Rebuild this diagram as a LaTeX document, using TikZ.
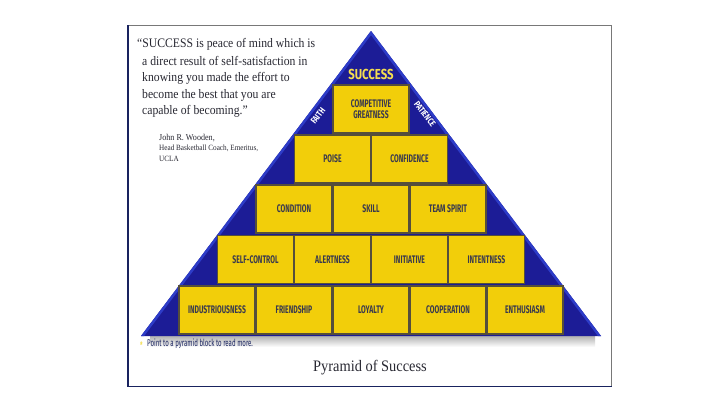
\documentclass[tikz,border=0pt]{standalone}
\usepackage{fontspec}
\setmainfont{Liberation Serif}
\newfontfamily\quotefont{Liberation Serif}[FakeStretch=0.9]
\newfontfamily\blockfont{Fira Sans}[FakeStretch=0.62]
\newfontfamily\topfont{Fira Sans}[FakeStretch=0.78]
\definecolor{pyrblue}{RGB}{28,28,150}
\definecolor{pyredge}{RGB}{45,60,200}
\definecolor{blkyellow}{RGB}{242,206,10}
\definecolor{blkedge}{RGB}{85,78,60}
\definecolor{blktext}{RGB}{58,58,78}
\definecolor{sucyellow}{RGB}{245,222,80}
\definecolor{navy}{RGB}{25,35,95}
\definecolor{framegray}{RGB}{120,120,120}
\definecolor{quotetext}{RGB}{40,40,50}
\tikzset{
  blk/.style={draw=blkedge, line width=1.4pt, fill=blkyellow, minimum width=76pt,
    minimum height=48pt, inner sep=0pt, align=center, text=blktext,
    font=\blockfont\bfseries\fontsize{11}{11.5}\selectfont},
  sidelbl/.style={text=white, inner sep=0pt, font=\topfont\bfseries\fontsize{9}{9}\selectfont},
  quoteln/.style={anchor=west, inner sep=0pt, text=quotetext, font=\quotefont\fontsize{13}{14}\selectfont},
  attrln/.style={anchor=west, inner sep=0pt, text=quotetext, font=\quotefont\fontsize{8}{9}\selectfont}
}
\begin{document}
\begin{tikzpicture}[x=1pt,y=-1pt]
\useasboundingbox (0,0) rectangle (720,405);
\fill[white] (0,0) rectangle (720,405);
% frame
\draw[framegray, line width=0.8pt] (127,25) -- (611.5,25) -- (611.5,386);
\draw[navy, line width=1.6pt] (128,25) -- (128,386.5) -- (612,386.5);
% shadow under pyramid
\shade[top color=black!30, bottom color=white] (150,336) rectangle (595,347);
% pyramid
\coordinate (apex) at (371,31);
\coordinate (bl) at (141,336);
\coordinate (br) at (601,336);
\fill[pyrblue] (apex) -- (bl) -- (br) -- cycle;
\begin{scope}
\clip (apex) -- (bl) -- (br) -- cycle;
\draw[pyredge, line width=5pt] (bl) -- (apex) -- (br);
\end{scope}
% top label
\node[text=sucyellow, inner sep=0pt, font=\topfont\bfseries\fontsize{14.5}{15}\selectfont] (success) at (371,74) {SUCCESS};
\node[sidelbl, rotate=52.8] (faith) at (318,116) {FAITH};
\node[sidelbl, rotate=-52.8] (patience) at (425,114) {PATIENCE};
% row 1
\node[blk] (cg) at (371,109) {COMPETITIVE\\GREATNESS};
% row 2
\node[blk] (poise) at (332.5,159) {POISE};
\node[blk] (confidence) at (409.5,159) {CONFIDENCE};
% row 3
\node[blk] (condition) at (294,209) {CONDITION};
\node[blk] (skill) at (371,209) {SKILL};
\node[blk] (teamspirit) at (448,209) {TEAM SPIRIT};
% row 4
\node[blk] (selfcontrol) at (255.5,259.5) {SELF-CONTROL};
\node[blk] (alertness) at (332.5,259.5) {ALERTNESS};
\node[blk] (initiative) at (409.5,259.5) {INITIATIVE};
\node[blk] (intentness) at (486.5,259.5) {INTENTNESS};
% row 5
\node[blk] (industriousness) at (217,310) {INDUSTRIOUSNESS};
\node[blk] (friendship) at (294,310) {FRIENDSHIP};
\node[blk] (loyalty) at (371,310) {LOYALTY};
\node[blk] (cooperation) at (448,310) {COOPERATION};
\node[blk] (enthusiasm) at (525,310) {ENTHUSIASM};
% quote
\node[quoteln] (q1) at (137,44) {“SUCCESS is peace of mind which is};
\node[quoteln] (q2) at (142,61) {a direct result of self-satisfaction in};
\node[quoteln] (q3) at (142,78) {knowing you made the effort to};
\node[quoteln] (q4) at (142,95) {become the best that you are};
\node[quoteln] (q5) at (142,111.5) {capable of becoming.”};
\node[attrln, font=\quotefont\fontsize{9}{10}\selectfont] (a1) at (159,138) {John R. Wooden,};
\node[attrln] (a2) at (159,148.5) {Head Basketball Coach, Emeritus,};
\node[attrln] (a3) at (159,158.5) {UCLA};
% note
\node[anchor=west, inner sep=0pt, text=sucyellow, font=\blockfont\bfseries\fontsize{9}{10}\selectfont] (star) at (140,345) {*};
\node[anchor=west, inner sep=0pt, text=navy, font=\blockfont\fontsize{9.8}{10}\selectfont] (note) at (147,344) {Point to a pyramid block to read more.};
% caption
\node[inner sep=0pt, text=quotetext, font=\quotefont\fontsize{16}{18}\selectfont] (caption) at (370,368) {Pyramid of Success};
\end{tikzpicture}
\end{document}
